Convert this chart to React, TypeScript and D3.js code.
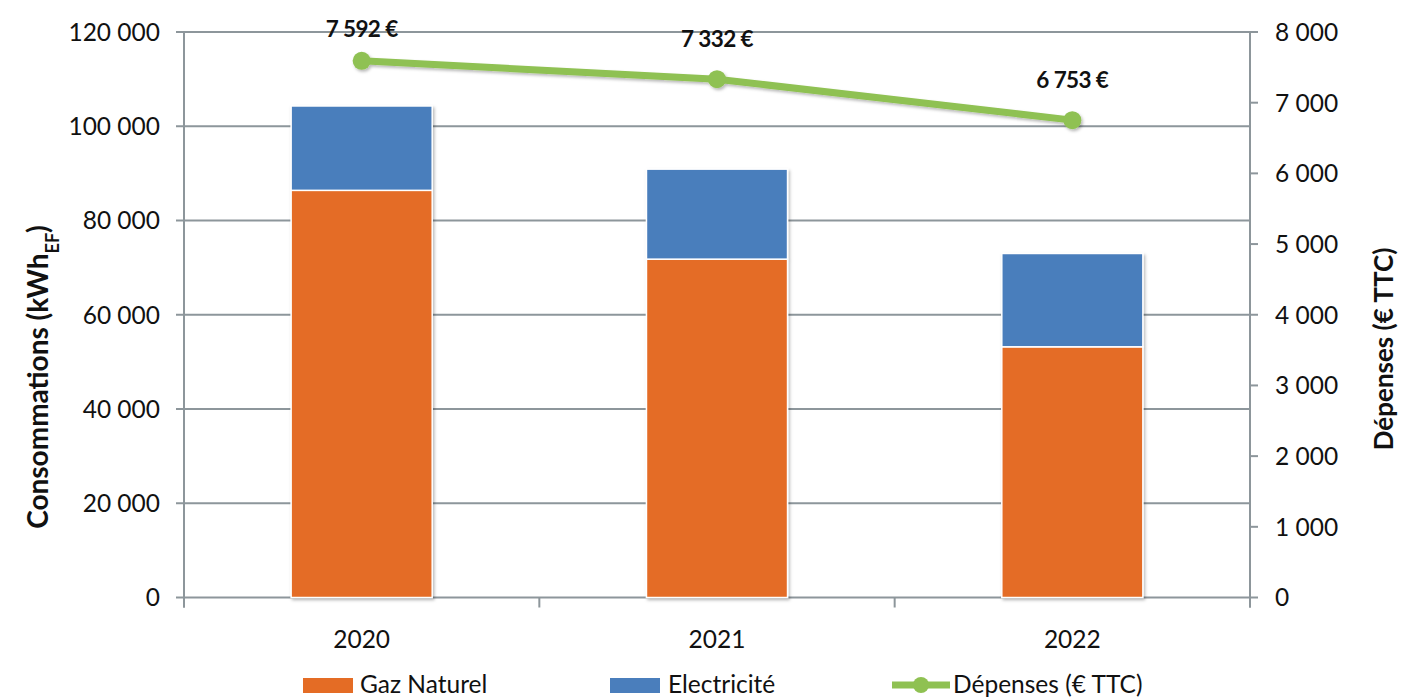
import React from 'react';
import * as d3 from 'd3';

// chart data
const years = ['2020', '2021', '2022'];
const gazNaturel = [86400, 71800, 53200];
const electricite = [17900, 19100, 19800];
const depenses = [7592, 7332, 6753];

const leftTicks = [0, 20000, 40000, 60000, 80000, 100000, 120000];
const rightTicks = [0, 1000, 2000, 3000, 4000, 5000, 6000, 7000, 8000];

const W = 1401;
const H = 699;
const plot = { left: 184, right: 1250, top: 32, bottom: 597.5 };

const COLORS = {
  gaz: '#e46c25',
  elec: '#4a7ebc',
  line: '#8fc152',
  grid: '#8d969b',
  text: '#111',
};

const FONT = 'Lato, "Open Sans", sans-serif';

const fr = d3.formatLocale({ decimal: ',', thousands: ' ', grouping: [3], currency: ['', ' €'] });
const fmt = fr.format(',d');

export default function App() {
  const x = d3.scaleBand<string>().domain(years).range([plot.left, plot.right]).paddingInner(0).paddingOuter(0);
  const yL = d3.scaleLinear().domain([0, 120000]).range([plot.bottom, plot.top]);
  const yR = d3.scaleLinear().domain([0, 8000]).range([plot.bottom, plot.top]);

  const barW = x.bandwidth() * 0.397;
  const cx = (yr: string) => (x(yr) as number) + x.bandwidth() / 2;

  const rows = years.map((yr, i) => ({ year: yr, gaz: gazNaturel[i], elec: electricite[i] }));
  const stacked = d3.stack<any>().keys(['gaz', 'elec'])(rows);

  const linePts = years.map((yr, i) => ({ year: yr, v: depenses[i] }));
  const line = d3.line<{ year: string; v: number }>()
    .x(d => cx(d.year))
    .y(d => yR(d.v));

  const axisBottom = plot.bottom + 10;
  const boundaries = years.map(yr => x(yr) as number).concat([plot.right]);

  return (
    <svg width={W} height={H} style={{ position: 'absolute', left: 0, top: 0, background: '#fff' }} fontFamily={FONT}>
      <defs>
        <filter id="shadow" x="-20%" y="-20%" width="140%" height="140%">
          <feDropShadow dx="1.5" dy="2" stdDeviation="1.8" floodColor="#000" floodOpacity="0.28" />
        </filter>
      </defs>
      <rect width={W} height={H} fill="#fff" />

      {/* gridlines */}
      {leftTicks.map(t => (
        <line key={'g' + t} x1={plot.left} x2={plot.right} y1={yL(t)} y2={yL(t)} stroke={COLORS.grid} strokeWidth={2} />
      ))}

      {/* axes */}
      <line x1={plot.left} x2={plot.left} y1={plot.top} y2={axisBottom} stroke={COLORS.grid} strokeWidth={2} />
      <line x1={plot.right} x2={plot.right} y1={plot.top} y2={axisBottom} stroke={COLORS.grid} strokeWidth={2} />
      {leftTicks.map(t => (
        <line key={'lt' + t} x1={plot.left - 8} x2={plot.left} y1={yL(t)} y2={yL(t)} stroke={COLORS.grid} strokeWidth={2} />
      ))}
      {rightTicks.map(t => (
        <line key={'rt' + t} x1={plot.right} x2={plot.right + 8} y1={yR(t)} y2={yR(t)} stroke={COLORS.grid} strokeWidth={2} />
      ))}
      {boundaries.map((b, i) => (
        <line key={'bt' + i} x1={b} x2={b} y1={plot.bottom} y2={axisBottom} stroke={COLORS.grid} strokeWidth={2} />
      ))}

      {/* bars */}
      <g filter="url(#shadow)">
        {stacked.map((s, si) => (
          <g key={s.key} fill={si === 0 ? COLORS.gaz : COLORS.elec}>
            {s.map((d, i) => (
              <rect
                key={years[i]}
                x={cx(years[i]) - barW / 2}
                width={barW}
                y={yL(d[1])}
                height={yL(d[0]) - yL(d[1])}
                stroke="#fff"
                strokeWidth={1.5}
              />
            ))}
          </g>
        ))}
      </g>

      {/* line series */}
      <g filter="url(#shadow)">
        <path d={line(linePts) || ''} fill="none" stroke={COLORS.line} strokeWidth={7} strokeLinejoin="round" />
        {linePts.map(p => (
          <circle key={p.year} cx={cx(p.year)} cy={yR(p.v)} r={9} fill={COLORS.line} />
        ))}
      </g>
      {linePts.map(p => (
        <text
          key={'lab' + p.year}
          x={cx(p.year)}
          y={Math.max(yR(p.v) - 32, 37)}
          textAnchor="middle"
          fontSize={22.5}
          fontWeight="bold"
          letterSpacing={-0.6}
          fill={COLORS.text}
        >
          {fmt(p.v) + ' €'}
        </text>
      ))}

      {/* left tick labels */}
      {leftTicks.map(t => (
        <text key={'ll' + t} x={160} y={yL(t)} dy="0.36em" textAnchor="end" fontSize={24.5} fill={COLORS.text}>
          {fmt(t)}
        </text>
      ))}
      {/* right tick labels */}
      {rightTicks.map(t => (
        <text key={'rl' + t} x={1275} y={yR(t)} dy="0.36em" textAnchor="start" fontSize={24.5} fill={COLORS.text}>
          {fmt(t)}
        </text>
      ))}
      {/* category labels */}
      {years.map(yr => (
        <text key={'c' + yr} x={cx(yr)} y={648} textAnchor="middle" fontSize={24.5} fill={COLORS.text}>
          {yr}
        </text>
      ))}

      {/* axis titles */}
      <text
        transform="translate(48,377) rotate(-90)"
        textAnchor="middle"
        fontSize={28}
        fontWeight="bold"
        fill={COLORS.text}
      >
        Consommations (kWh<tspan fontSize={18} baselineShift="sub">EF</tspan>)
      </text>
      <text
        transform="translate(1393,349) rotate(-90)"
        textAnchor="middle"
        fontSize={26}
        fontWeight="bold"
        fill={COLORS.text}
      >
        Dépenses (€ TTC)
      </text>

      {/* legend */}
      <rect x={303} y={678} width={50} height={15} fill={COLORS.gaz} />
      <text x={360} y={693} fontSize={24.5} fill={COLORS.text}>Gaz Naturel</text>
      <rect x={610} y={678} width={50} height={15} fill={COLORS.elec} />
      <text x={668} y={693} fontSize={24.5} fill={COLORS.text}>Electricité</text>
      <line x1={892} x2={950} y1={685} y2={685} stroke={COLORS.line} strokeWidth={7} />
      <circle cx={921} cy={685} r={8} fill={COLORS.line} />
      <text x={953} y={693} fontSize={24.5} fill={COLORS.text}>Dépenses (€ TTC)</text>
    </svg>
  );
}
